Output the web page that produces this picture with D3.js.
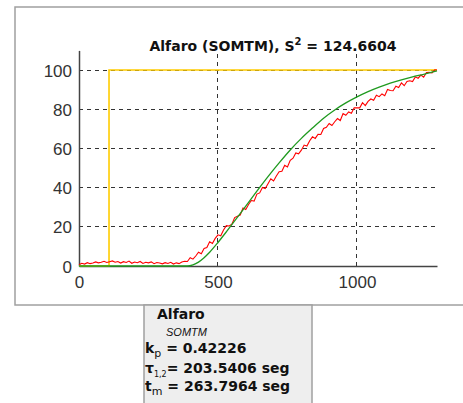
<!DOCTYPE html>
<html><head><meta charset="utf-8">
<script src="https://cdn.jsdelivr.net/npm/d3@7"></script>
<style>
html,body{margin:0;padding:0;background:#fff;}
svg{display:block;font-family:"Liberation Sans",Arial,sans-serif;}
</style></head>
<body><svg id="c" width="463" height="403"></svg>
<script>
// ---- data ----
const titleText = "Alfaro (SOMTM), S";
const titleValue = " = 124.6604";
const xTicks = [0, 500, 1000];
const yTicks = [0, 20, 40, 60, 80, 100];
const xGrid = [500, 1000];
const yGrid = [20, 40, 60, 80, 100];

// step input (yellow)
const stepT = [0, 108, 108, 1288];
const stepY = [0, 0, 100, 100];

// model response (green)
const greenT = [0, 390, 410, 430, 450, 470, 500, 530, 560, 600, 640, 680, 720, 760, 800, 840, 880, 920, 960, 1000, 1040, 1080, 1120, 1160, 1200, 1240, 1288];
const greenY = [0, 0, 0.6, 2.0, 4.2, 7.0, 12.0, 17.4, 23.0, 30.6, 38.2, 45.6, 52.6, 59.2, 65.1, 70.4, 75.4, 79.6, 83.2, 86.3, 89.0, 91.3, 93.3, 95.0, 96.5, 97.8, 99.5];

// measured response (red), every 10 s
const redT = [0,10,20,30,40,50,60,70,80,90,100,110,120,130,140,150,160,170,180,190,200,210,220,230,240,250,260,270,280,290,300,310,320,330,340,350,360,370,380,390,400,410,420,430,440,450,460,470,480,490,500,510,520,530,540,550,560,570,580,590,600,610,620,630,640,650,660,670,680,690,700,710,720,730,740,750,760,770,780,790,800,810,820,830,840,850,860,870,880,890,900,910,920,930,940,950,960,970,980,990,1000,1010,1020,1030,1040,1050,1060,1070,1080,1090,1100,1110,1120,1130,1140,1150,1160,1170,1180,1190,1200,1210,1220,1230,1240,1250,1260,1270,1280,1288];
const redY = [0.6,1.4,1.0,1.7,1.2,1.5,2.1,1.6,1.9,2.4,1.8,2.2,2.6,1.9,2.3,1.5,2.2,1.8,2.5,1.4,2.0,1.7,2.3,1.3,1.9,1.6,2.1,1.2,1.8,1.5,1.1,1.7,1.3,1.9,1.0,1.6,1.2,2.0,
  2.4,2.3,4.2,3.5,5.1,7.0,6.2,8.9,9.4,12.4,11.5,14.1,15.9,15.4,18.4,20.6,20.4,21.3,24.7,25.4,26.0,29.6,28.8,31.4,33.4,33.1,36.7,37.3,40.1,39.5,42.0,44.5,43.4,45.9,48.1,48.3,51.4,50.5,53.9,55.0,57.7,57.2,59.1,61.7,61.2,63.9,65.9,65.1,67.2,67.1,70.2,70.8,72.7,71.7,73.6,75.2,74.2,77.8,76.9,78.6,77.9,80.7,80.7,80.7,83.3,81.8,84.0,85.2,84.6,87.1,86.4,87.8,86.9,90.1,89.5,89.4,91.7,91.1,93.4,92.0,94.2,94.5,94.1,96.5,95.8,97.4,96.3,98.7,98.8,98.5,100.1,100.0];

// info box texts
const infoTitle = "Alfaro";
const infoSub = "SOMTM";
const kpText = " = 0.42226";
const tauText = "= 203.5406 seg";
const tmText = " = 263.7964 seg";

// ---- drawing ----
const svg = d3.select("#c");
const x = d3.scaleLinear().domain([0, 1288]).range([79, 437]);
const y = d3.scaleLinear().domain([0, 110]).range([266, 50.4]);

// outer frame
svg.append("rect").attr("x", 15).attr("y", 7).attr("width", 460).attr("height", 298)
  .attr("fill", "#fff").attr("stroke", "#a0a0a0").attr("stroke-width", 1.5);

const gridColor = "#333";
svg.append("g").selectAll("line").data(yGrid).join("line")
  .attr("x1", x(0)).attr("x2", x(1288)).attr("y1", d => y(d)).attr("y2", d => y(d))
  .attr("stroke", gridColor).attr("stroke-width", 1).attr("stroke-dasharray", "4,4")
  .attr("shape-rendering", "crispEdges");
svg.append("g").selectAll("line").data(xGrid).join("line")
  .attr("x1", d => x(d)).attr("x2", d => x(d)).attr("y1", y(0)).attr("y2", y(110))
  .attr("stroke", gridColor).attr("stroke-width", 1).attr("stroke-dasharray", "4,4")
  .attr("shape-rendering", "crispEdges");

// axes
const xAxis = d3.axisBottom(x).tickValues(xTicks).tickFormat(d3.format("d")).tickSize(0).tickPadding(9);
const yAxis = d3.axisLeft(y).tickValues(yTicks).tickFormat(d3.format("d")).tickSize(0).tickPadding(7);
const gx = svg.append("g").attr("transform", `translate(0,${y(0)})`).call(xAxis);
const gy = svg.append("g").attr("transform", `translate(${x(0)},0)`).call(yAxis);
[gx, gy].forEach(g => {
  g.select(".domain").attr("stroke", "#444").attr("stroke-width", 1.5);
  g.selectAll("text").attr("font-size", 17).attr("fill", "#333")
    .attr("font-family", "Liberation Sans, Arial, sans-serif");
});
gy.selectAll("text").attr("dy", "0.36em");
gx.selectAll("text").attr("dy", "0.75em");

// lines
const pts = (ts, ys) => ts.map((t, i) => [t, ys[i]]);
const line = d3.line().x(d => x(d[0])).y(d => y(d[1]));
svg.append("path").datum(pts(stepT, stepY)).attr("d", line)
  .attr("fill", "none").attr("stroke", "#ffcc00").attr("stroke-width", 1.6);
svg.append("path").datum(pts(redT, redY)).attr("d", line)
  .attr("fill", "none").attr("stroke", "#ff0000").attr("stroke-width", 1.1);
svg.append("path").datum(pts(greenT, greenY)).attr("d", d3.line().x(d => x(d[0])).y(d => y(d[1])).curve(d3.curveMonotoneX))
  .attr("fill", "none").attr("stroke", "#1f9a1f").attr("stroke-width", 1.3);

// title
const tt = svg.append("text").attr("x", 273).attr("y", 50.5).attr("text-anchor", "middle")
  .attr("font-family", "DejaVu Sans, sans-serif")
  .attr("font-size", 14).attr("font-weight", "bold").attr("fill", "#111");
tt.append("tspan").text(titleText);
tt.append("tspan").attr("font-size", 10).attr("dy", -6).text("2");
tt.append("tspan").attr("dy", 6).text(titleValue);

// info box
svg.append("rect").attr("x", 144).attr("y", 305).attr("width", 168).attr("height", 110)
  .attr("fill", "#eeeeee").attr("stroke", "#a0a0a0").attr("stroke-width", 1.5);
const tb = svg.append("g").attr("font-weight", "bold").attr("fill", "#111").attr("font-size", 14)
  .attr("font-family", "DejaVu Sans, sans-serif");
tb.append("text").attr("x", 157).attr("y", 319).text(infoTitle);
tb.append("text").attr("x", 166).attr("y", 336).attr("font-size", 11).attr("font-weight", "normal")
  .attr("font-family", "Liberation Sans, Arial, sans-serif")
  .attr("font-style", "italic").text(infoSub);
const k = tb.append("text").attr("x", 145).attr("y", 353);
k.append("tspan").text("k");
k.append("tspan").attr("font-size", 11).attr("font-weight", "normal").attr("dy", 4).text("p");
k.append("tspan").attr("dy", -4).text(kpText);
const ta = tb.append("text").attr("x", 145).attr("y", 373);
ta.append("tspan").text("τ");
ta.append("tspan").attr("font-size", 8).attr("font-weight", "normal").attr("dy", 4).text("1,2");
ta.append("tspan").attr("dy", -4).text(tauText);
const tm = tb.append("text").attr("x", 145).attr("y", 391);
tm.append("tspan").text("t");
tm.append("tspan").attr("font-size", 11).attr("font-weight", "normal").attr("dy", 4).text("m");
tm.append("tspan").attr("dy", -4).text(tmText);
</script>
</body></html>
